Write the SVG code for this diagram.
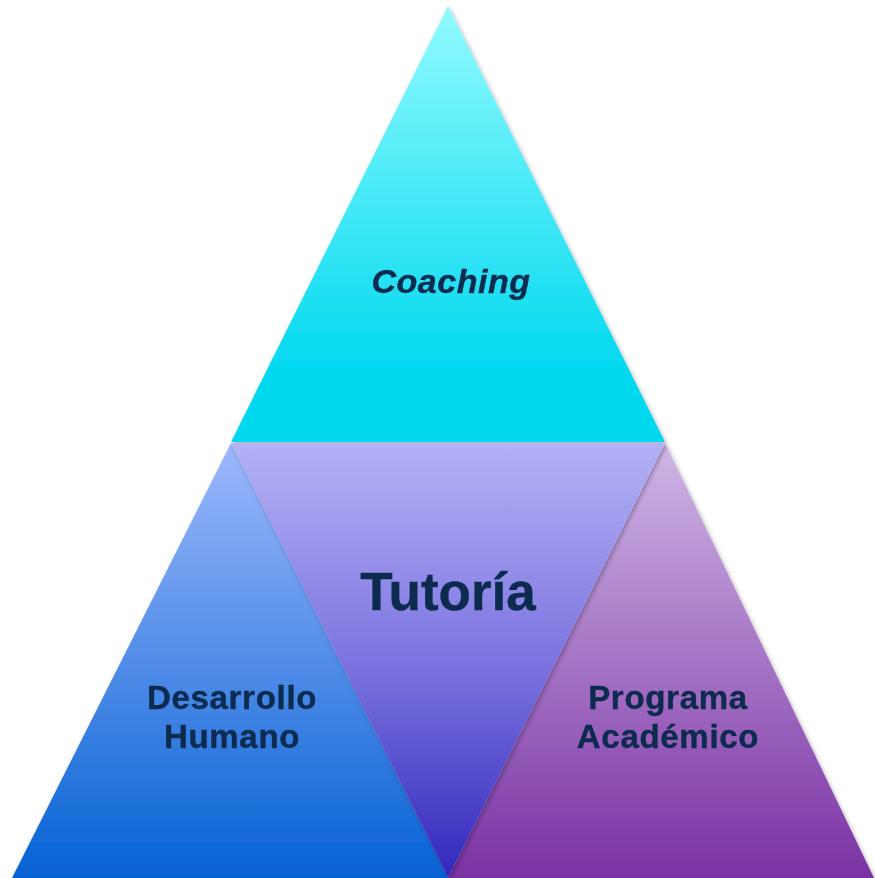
<svg xmlns="http://www.w3.org/2000/svg" width="875" height="878" viewBox="0 0 875 878">
<defs>
<linearGradient id="gTop" x1="0" y1="0" x2="0" y2="1"><stop offset="0" stop-color="#92fbff"/><stop offset="0.85" stop-color="#00d8ef"/><stop offset="1" stop-color="#00d8ef"/></linearGradient>
<linearGradient id="gMid" x1="0" y1="0" x2="0" y2="1"><stop offset="0" stop-color="#b4b2f6"/><stop offset="0.5" stop-color="#7d74e0"/><stop offset="1" stop-color="#3228bb"/></linearGradient>
<linearGradient id="gLeft" x1="0" y1="0" x2="0" y2="1"><stop offset="0" stop-color="#9db8fc"/><stop offset="1" stop-color="#0562d4"/></linearGradient>
<linearGradient id="gRight" x1="0" y1="0" x2="0" y2="1"><stop offset="0" stop-color="#d0b6e6"/><stop offset="1" stop-color="#7a32a3"/></linearGradient>
<filter id="sh" x="-10%" y="-10%" width="120%" height="120%"><feDropShadow dx="1.5" dy="2" stdDeviation="2" flood-color="#000" flood-opacity="0.3"/></filter>
</defs>
<style>
.t{font-family:"Liberation Sans",Arial,sans-serif;font-weight:bold;fill:#0c2a4f;text-anchor:middle;stroke:#0c2a4f;stroke-width:0.4}
.s{font-size:33px;letter-spacing:0.7px}
</style>
<g id="top" filter="url(#sh)">
<polygon points="448,6 665,442 231,442" fill="url(#gTop)"/>
<text class="t" x="451" y="293" font-size="34" font-style="italic" letter-spacing="0.5">Coaching</text>
</g>
<g id="left" filter="url(#sh)">
<polygon points="231,443 448,878 12,878" fill="url(#gLeft)"/>
<text class="t s" x="232" y="709">Desarrollo</text>
<text class="t s" x="232" y="748">Humano</text>
</g>
<g id="right" filter="url(#sh)">
<polygon points="665,443 874,878 448,878" fill="url(#gRight)"/>
<text class="t s" x="668" y="709">Programa</text>
<text class="t s" x="668" y="748">Académico</text>
</g>
<g id="middle" filter="url(#sh)">
<polygon points="231,443 665,443 448,878" fill="url(#gMid)"/>
<text class="t" x="448" y="610" font-size="53" stroke-width="0.3">Tutoría</text>
</g>
<g id="connectors"/>
</svg>
